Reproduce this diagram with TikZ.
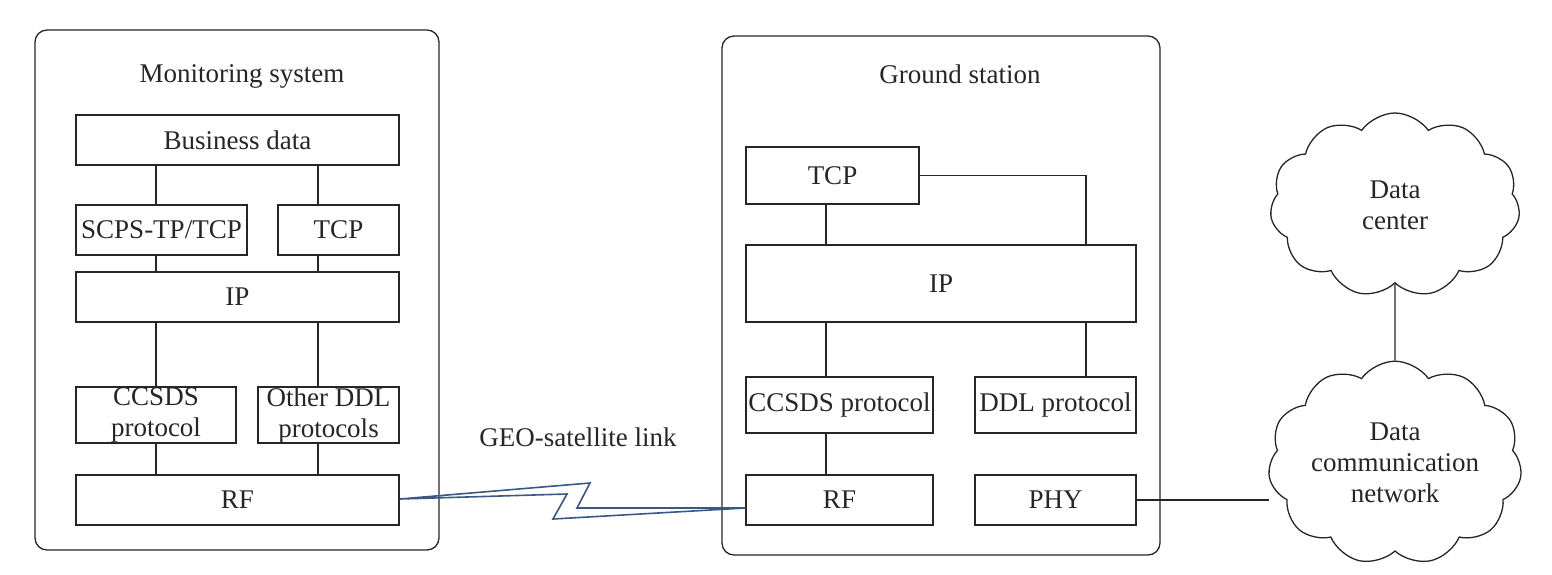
\documentclass[tikz,border=0pt]{standalone}
\usepackage{fontspec}
\setmainfont{Liberation Serif}
\usetikzlibrary{fit,shapes.symbols,calc}
\begin{document}
\begin{tikzpicture}[x=0.5pt,y=-0.5pt,
  every node/.style={font=\fontsize{13.5pt}{15.5pt}\selectfont, text=black!85},
  box/.style={draw=black!85, line width=0.65pt, inner sep=0pt, align=center},
  frame/.style={draw=black!85, line width=0.65pt, rounded corners=6pt, inner sep=0pt},
  link/.style={draw=black!85, line width=0.65pt},
  cloudnode/.style={cloud, draw=black!85, line width=0.65pt, cloud puffs=11, cloud puff arc=110, aspect=1.35, minimum width=125pt, minimum height=92pt, inner sep=0pt, align=center}
]
\useasboundingbox (0,0) rectangle (1552,574);
% frames
\node[frame, fit={(35,30) (439,550)}] (ms) {};
\node[frame, fit={(722,36) (1160,555)}] (gs) {};
\node at (242,76) (mstitle) {Monitoring system};
\node at (960,74) (gstitle) {Ground station};
% left stack
\node[box, fit={(76,115) (399,165)}] (bd) {};
\node at (bd.center) {Business data};
\node[box, fit={(76,205) (247,255)}] (scps) {};
\node at (scps.center) {SCPS-TP/TCP};
\node[box, fit={(278,205) (399,255)}] (tcpL) {};
\node at (tcpL.center) {TCP};
\node[box, fit={(76,272) (399,322)}] (ipL) {};
\node at (ipL.center) {IP};
\node[box, fit={(76,387) (236,443)}] (ccL) {};
\node[align=center] at (ccL.center) {CCSDS\\protocol};
\node[box, fit={(258,387) (399,443)}] (ddlL) {};
\node[align=center] at (ddlL.center) {Other DDL\\protocols};
\node[box, fit={(76,475) (399,525)}] (rfL) {};
\node at (rfL.center) {RF};
\coordinate (cL) at (156,0);
\coordinate (cR) at (318,0);
\draw[link] (bd.south -| cL) -- (scps.north -| cL);
\draw[link] (bd.south -| cR) -- (tcpL.north -| cR);
\draw[link] (scps.south -| cL) -- (ipL.north -| cL);
\draw[link] (tcpL.south -| cR) -- (ipL.north -| cR);
\draw[link] (ipL.south -| cL) -- (ccL.north -| cL);
\draw[link] (ipL.south -| cR) -- (ddlL.north -| cR);
\draw[link] (ccL.south -| cL) -- (rfL.north -| cL);
\draw[link] (ddlL.south -| cR) -- (rfL.north -| cR);
% right stack
\node[box, fit={(746,147) (919,204)}] (tcpG) {};
\node at (tcpG.center) {TCP};
\node[box, fit={(746,245) (1136,322)}] (ipG) {};
\node at (ipG.center) {IP};
\node[box, fit={(746,377) (933,433)}] (ccG) {};
\node at (ccG.center) {CCSDS protocol};
\node[box, fit={(975,377) (1136,433)}] (ddlG) {};
\node at (ddlG.center) {DDL protocol};
\node[box, fit={(746,475) (933,525)}] (rfG) {};
\node at (rfG.center) {RF};
\node[box, fit={(975,475) (1136,525)}] (phy) {};
\node at (phy.center) {PHY};
\coordinate (gL) at (826,0);
\coordinate (gR) at (1086,0);
\draw[link] (tcpG.south -| gL) -- (ipG.north -| gL);
\draw[link] (tcpG.east) -| (ipG.north -| gR);
\draw[link] (ipG.south -| gL) -- (ccG.north -| gL);
\draw[link] (ipG.south -| gR) -- (ddlG.north -| gR);
\draw[link] (ccG.south -| gL) -- (rfG.north -| gL);
% clouds
\node[cloudnode] at (1395,205) (dc) {Data\\center};
\node[cloudnode] at (1395,463) (dcn) {Data\\communication\\network};
\draw[link] (dc.south) -- (dcn.north);
\draw[link] (phy.east) -- (dcn.west |- phy.east);
% satellite link
\node at (578,437) (geo) {GEO-satellite link};
\draw[draw={rgb,255:red,58;green,88;blue,132}, line width=0.8pt, line join=miter]
  ($(rfL.east)+(0,-1)$) -- (590,483) -- (577,508) -- ($(rfG.west)+(0,8)$)
  -- (553,519) -- (567,494) -- cycle;
\end{tikzpicture}
\end{document}
